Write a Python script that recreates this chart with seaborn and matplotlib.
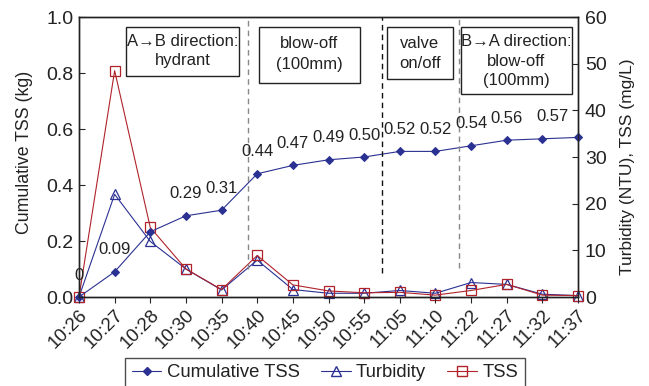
import matplotlib
matplotlib.use("Agg")
import matplotlib.pyplot as plt
from matplotlib.patches import Rectangle
from matplotlib.lines import Line2D
import seaborn as sns
import pandas as pd

sns.set_style("white")
plt.rcParams['font.family'] = ['Liberation Sans', 'DejaVu Sans']

times = ["10:26", "10:27", "10:28", "10:30", "10:35", "10:40", "10:45", "10:50",
         "10:55", "11:05", "11:10", "11:22", "11:27", "11:32", "11:37"]
cumulative_tss = [0.0, 0.09, 0.233, 0.29, 0.31, 0.44, 0.47, 0.49, 0.50, 0.52,
                  0.52, 0.54, 0.56, 0.565, 0.57]
cum_labels = ["0", "0.09", "", "0.29", "0.31", "0.44", "0.47", "0.49", "0.50",
              "0.52", "0.52", "0.54", "0.56", "0.57", ""]
turbidity = [0.0, 22.0, 11.9, 6.0, 1.5, 7.9, 1.6, 0.8, 0.8, 1.4, 0.8, 3.1, 2.7, 0.6, 0.3]
tss = [0.0, 48.5, 14.9, 6.0, 1.6, 8.9, 2.6, 1.3, 0.9, 1.0, 0.4, 1.4, 2.7, 0.4, 0.3]

BLUE = "#2B3192"
RED = "#B0232B"
TXT = "#222222"

df = pd.DataFrame({"pos": range(len(times)), "cum": cumulative_tss,
                   "turb": turbidity, "tss": tss})

fig = plt.figure(figsize=(6.49, 3.86), dpi=100)
ax = fig.add_axes([79 / 649, 1 - 297 / 386, 499 / 649, 280 / 386])
ax2 = ax.twinx()
ax.set_zorder(ax2.get_zorder() + 1)
ax.patch.set_visible(False)

sns.lineplot(data=df, x="pos", y="turb", ax=ax2, color=BLUE, lw=0.8,
             marker="^", markersize=7, markerfacecolor="none",
             markeredgecolor=BLUE, markeredgewidth=0.9, clip_on=False)
sns.lineplot(data=df, x="pos", y="tss", ax=ax2, color=RED, lw=0.8,
             marker="s", markersize=7, markerfacecolor="none",
             markeredgecolor=RED, markeredgewidth=0.9, clip_on=False)
sns.lineplot(data=df, x="pos", y="cum", ax=ax, color=BLUE, lw=0.8,
             marker="D", markersize=4.5, markerfacecolor=BLUE,
             markeredgecolor=BLUE, clip_on=False)

for i, (v, lab) in enumerate(zip(cumulative_tss, cum_labels)):
    if lab:
        dx = 10 if i == 13 else 0
        ax.annotate(lab, (i, v), xytext=(dx, 22), textcoords="offset pixels",
                    ha="center", va="center", fontsize=12, color=TXT)

ax.set_xlim(0, len(times) - 1)
ax.set_ylim(0, 1.0)
ax2.set_ylim(0, 60)
ax.set_xticks(range(len(times)))
ax.set_xticklabels(times, rotation=45, ha="right", rotation_mode="anchor",
                   fontsize=13.5, color=TXT)
ax.set_yticks([0, 0.2, 0.4, 0.6, 0.8, 1.0])
ax.set_yticklabels(["0.0", "0.2", "0.4", "0.6", "0.8", "1.0"], fontsize=14,
                   color=TXT)
ax2.set_yticks([0, 10, 20, 30, 40, 50, 60])
ax2.set_yticklabels([str(t) for t in [0, 10, 20, 30, 40, 50, 60]], fontsize=14,
                    color=TXT)
ax.tick_params(axis="x", direction="out", length=4, width=0.8, bottom=True, pad=3)
ax.tick_params(axis="y", direction="in", length=4, width=0.8, left=True, pad=4)
ax2.tick_params(axis="y", direction="in", length=4, width=0.8, right=True, pad=5)
ax.set_xlabel("")
ax.set_ylabel("Cumulative TSS (kg)", fontsize=12.8, color=TXT)
ax2.set_ylabel("Turbidity (NTU), TSS (mg/L)", fontsize=12.5, color=TXT)
ax.yaxis.set_label_coords(-0.092, 0.518)
ax2.yaxis.set_label_coords(1.084, 0.464)
for a in (ax, ax2):
    for s in a.spines.values():
        s.set_color(TXT)
        s.set_linewidth(1.0)

# Flushing phase separators
ax.vlines(4.74, 0.1, 1.0, colors="#888888", linestyles=(0, (4, 3)), lw=1.0)
ax.vlines(8.5, 0.086, 1.0, colors="#111111", linestyles=(0, (4, 3)), lw=1.0)
ax.vlines(10.66, 0.105, 1.0, colors="#888888", linestyles=(0, (4, 3)), lw=1.0)

# Phase description boxes (axes fraction coordinates)
boxes = [
    (0.094, 0.3206, 0.789, ["A\u2192B direction:", "hydrant"], [42, 61]),
    (0.3607, 0.563, 0.764, ["blow-off", "(100mm)"], [43, 65]),
    (0.617, 0.7495, 0.779, ["valve", "on/off"], [43, 63]),
    (0.7655, 0.988, 0.725, ["B\u2192A direction:", "blow-off", "(100mm)"], [42, 61, 81]),
]
top = 0.964
for x0, x1, y0, lines, ys in boxes:
    ax.add_patch(Rectangle((x0, y0), x1 - x0, top - y0, transform=ax.transAxes,
                           fill=True, facecolor="white", edgecolor=TXT,
                           lw=1.0, zorder=5))
    for line, py in zip(lines, ys):
        ax.text((x0 + x1) / 2, (297 - py) / 280, line, transform=ax.transAxes,
                ha="center", va="center", fontsize=12, color=TXT, zorder=6)

handles = [
    Line2D([], [], color=BLUE, lw=0.8, marker="D", markersize=4.5,
           markerfacecolor=BLUE),
    Line2D([], [], color=BLUE, lw=0.8, marker="^", markersize=7,
           markerfacecolor="none"),
    Line2D([], [], color=RED, lw=0.8, marker="s", markersize=7,
           markerfacecolor="none"),
]
leg = fig.legend(handles, ["Cumulative TSS", "Turbidity", "TSS"], ncol=3,
                 loc="upper center", bbox_to_anchor=(325 / 649, 1 - 358 / 386),
                 borderaxespad=0, fontsize=13.3, frameon=True, fancybox=False,
                 edgecolor=TXT, handlelength=1.6, columnspacing=1.15,
                 handletextpad=0.3, borderpad=0.35)
leg.get_frame().set_linewidth(1.0)
for t in leg.get_texts():
    t.set_color(TXT)

fig.savefig("out.png", dpi=100)
